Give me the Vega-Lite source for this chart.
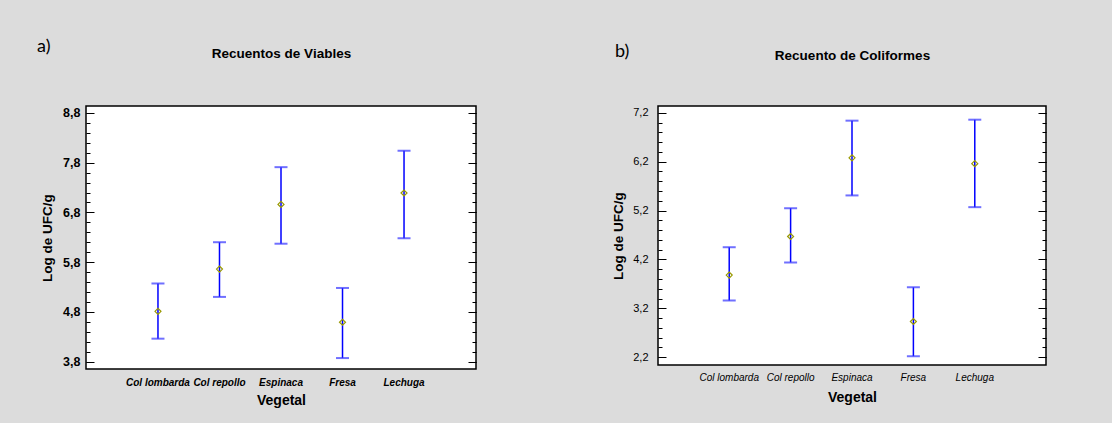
{
  "$schema": "https://vega.github.io/schema/vega-lite/v6.json",
  "background": "#dcdcdc",
  "padding": {"left": 36, "top": 37, "right": 64, "bottom": 18},
  "spacing": 182,
  "bounds": "flush",
  "datasets": {
    "a": [
      {"veg": "Col lombarda", "mean": 4.81, "lo": 4.26, "hi": 5.37},
      {"veg": "Col repollo", "mean": 5.66, "lo": 5.10, "hi": 6.20},
      {"veg": "Espinaca", "mean": 6.96, "lo": 6.17, "hi": 7.71},
      {"veg": "Fresa", "mean": 4.59, "lo": 3.87, "hi": 5.28},
      {"veg": "Lechuga", "mean": 7.19, "lo": 6.28, "hi": 8.04}
    ],
    "b": [
      {"veg": "Col lombarda", "mean": 3.88, "lo": 3.36, "hi": 4.45},
      {"veg": "Col repollo", "mean": 4.67, "lo": 4.14, "hi": 5.25},
      {"veg": "Espinaca", "mean": 6.28, "lo": 5.51, "hi": 7.04},
      {"veg": "Fresa", "mean": 2.93, "lo": 2.22, "hi": 3.63},
      {"veg": "Lechuga", "mean": 6.16, "lo": 5.27, "hi": 7.06}
    ]
  },
  "hconcat": [
    {
      "width": 390,
      "height": 263,
      "data": {"name": "a"},
      "title": {"text": "a)", "anchor": "start", "frame": "group", "dx": -49, "offset": -10, "font": "Lato", "fontSize": 18, "fontWeight": "normal", "color": "#000"},
      "layer": [
        {
          "mark": {"type": "rule", "color": "#0000ff", "strokeWidth": 1.5},
          "encoding": {
            "x": {"field": "veg", "type": "nominal", "sort": null, "scale": {"type": "band", "paddingInner": 0, "paddingOuter": 0.67},
              "axis": {"orient": "bottom", "title": "Vegetal", "labelAngle": 0, "ticks": false, "domain": false, "labelFontStyle": "italic", "labelFontWeight": "bold", "labelFontSize": 10, "labelPadding": 8, "titleFontSize": 14, "titleFontWeight": "bold", "titlePadding": 6}},
            "y": {"field": "lo", "type": "quantitative", "scale": {"domain": [3.65, 8.94], "zero": false, "nice": false},
              "axis": {"orient": "left", "values": [3.8, 4.8, 5.8, 6.8, 7.8, 8.8], "labelExpr": "replace(format(datum.value,'.1f'),'.',',')", "tickSize": -8, "tickColor": "#000", "labelPadding": 14, "domain": false, "grid": false, "title": "Log de UFC/g", "titleFontSize": 13.5, "titleFontWeight": "bold", "titlePadding": 8, "labelFontSize": 12.5, "labelFontWeight": "bold"}},
            "y2": {"field": "hi"}
          }
        },
        {
          "mark": {"type": "tick", "color": "#3333ff", "thickness": 2, "size": 13},
          "encoding": {
            "x": {"field": "veg", "type": "nominal", "sort": null, "scale": {"type": "band", "paddingInner": 0, "paddingOuter": 0.67},
              "axis": {"orient": "top", "labels": false, "ticks": false, "domain": false, "title": "Recuentos de Viables", "titleFontSize": 13.5, "titleFontWeight": "bold", "titlePadding": 46}},
            "y": {"field": "lo", "type": "quantitative", "scale": {"domain": [3.65, 8.94], "zero": false, "nice": false},
              "axis": {"orient": "left", "values": [3.8, 4.0, 4.2, 4.4, 4.6, 4.8, 5.0, 5.2, 5.4, 5.6, 5.8, 6.0, 6.2, 6.4, 6.6, 6.8, 7.0, 7.2, 7.4, 7.6, 7.8, 8.0, 8.2, 8.4, 8.6, 8.8], "labels": false, "tickSize": -4, "tickColor": "#000", "domain": false, "grid": false, "title": null}}
          }
        },
        {
          "mark": {"type": "tick", "color": "#3333ff", "thickness": 2, "size": 13},
          "encoding": {
            "x": {"field": "veg", "type": "nominal", "sort": null, "scale": {"type": "band", "paddingInner": 0, "paddingOuter": 0.67}, "axis": null},
            "y": {"field": "hi", "type": "quantitative", "scale": {"domain": [3.65, 8.94], "zero": false, "nice": false},
              "axis": {"orient": "right", "values": [3.8, 4.8, 5.8, 6.8, 7.8, 8.8], "labels": false, "tickSize": -8, "tickColor": "#000", "domain": false, "grid": false, "title": null}}
          }
        },
        {
          "mark": {"type": "point", "shape": "diamond", "filled": false, "color": "#999900", "strokeWidth": 1.2, "size": 36, "opacity": 1},
          "encoding": {
            "x": {"field": "veg", "type": "nominal", "sort": null, "scale": {"type": "band", "paddingInner": 0, "paddingOuter": 0.67}, "axis": null},
            "y": {"field": "mean", "type": "quantitative", "scale": {"domain": [3.65, 8.94], "zero": false, "nice": false},
              "axis": {"orient": "right", "values": [3.8, 4.0, 4.2, 4.4, 4.6, 4.8, 5.0, 5.2, 5.4, 5.6, 5.8, 6.0, 6.2, 6.4, 6.6, 6.8, 7.0, 7.2, 7.4, 7.6, 7.8, 8.0, 8.2, 8.4, 8.6, 8.8], "labels": false, "tickSize": -4, "tickColor": "#000", "domain": false, "grid": false, "title": null}}
          }
        }
      ],
      "resolve": {"axis": {"x": "independent", "y": "independent"}}
    },
    {
      "width": 388,
      "height": 259,
      "data": {"name": "b"},
      "title": {"text": "b)", "anchor": "start", "frame": "group", "dx": -43, "offset": -13, "font": "Lato", "fontSize": 18, "fontWeight": "normal", "color": "#000"},
      "layer": [
        {
          "mark": {"type": "rule", "color": "#0000ff", "strokeWidth": 1.5},
          "encoding": {
            "x": {"field": "veg", "type": "nominal", "sort": null, "scale": {"type": "band", "paddingInner": 0, "paddingOuter": 0.66},
              "axis": {"orient": "bottom", "title": "Vegetal", "labelAngle": 0, "ticks": false, "domain": false, "labelFontStyle": "italic", "labelFontWeight": "normal", "labelFontSize": 10, "labelPadding": 7, "titleFontSize": 14, "titleFontWeight": "bold", "titlePadding": 8}},
            "y": {"field": "lo", "type": "quantitative", "scale": {"domain": [2.04, 7.34], "zero": false, "nice": false},
              "axis": {"orient": "left", "values": [2.2, 3.2, 4.2, 5.2, 6.2, 7.2], "labelExpr": "replace(format(datum.value,'.1f'),'.',',')", "tickSize": -8, "tickColor": "#000", "labelPadding": 18, "domain": false, "grid": false, "title": "Log de UFC/g", "titleFontSize": 13.5, "titleFontWeight": "bold", "titlePadding": 7, "labelFontSize": 11, "labelFontWeight": "normal"}},
            "y2": {"field": "hi"}
          }
        },
        {
          "mark": {"type": "tick", "color": "#3333ff", "thickness": 2, "size": 13},
          "encoding": {
            "x": {"field": "veg", "type": "nominal", "sort": null, "scale": {"type": "band", "paddingInner": 0, "paddingOuter": 0.66},
              "axis": {"orient": "top", "labels": false, "ticks": false, "domain": false, "title": "Recuento de Coliformes", "titleFontSize": 13.5, "titleFontWeight": "bold", "titlePadding": 44}},
            "y": {"field": "lo", "type": "quantitative", "scale": {"domain": [2.04, 7.34], "zero": false, "nice": false},
              "axis": {"orient": "left", "values": [2.2, 2.4, 2.6, 2.8, 3.0, 3.2, 3.4, 3.6, 3.8, 4.0, 4.2, 4.4, 4.6, 4.8, 5.0, 5.2, 5.4, 5.6, 5.8, 6.0, 6.2, 6.4, 6.6, 6.8, 7.0, 7.2], "labels": false, "tickSize": -4, "tickColor": "#000", "domain": false, "grid": false, "title": null}}
          }
        },
        {
          "mark": {"type": "tick", "color": "#3333ff", "thickness": 2, "size": 13},
          "encoding": {
            "x": {"field": "veg", "type": "nominal", "sort": null, "scale": {"type": "band", "paddingInner": 0, "paddingOuter": 0.66}, "axis": null},
            "y": {"field": "hi", "type": "quantitative", "scale": {"domain": [2.04, 7.34], "zero": false, "nice": false},
              "axis": {"orient": "right", "values": [2.2, 3.2, 4.2, 5.2, 6.2, 7.2], "labels": false, "tickSize": -8, "tickColor": "#000", "domain": false, "grid": false, "title": null}}
          }
        },
        {
          "mark": {"type": "point", "shape": "diamond", "filled": false, "color": "#999900", "strokeWidth": 1.2, "size": 36, "opacity": 1},
          "encoding": {
            "x": {"field": "veg", "type": "nominal", "sort": null, "scale": {"type": "band", "paddingInner": 0, "paddingOuter": 0.66}, "axis": null},
            "y": {"field": "mean", "type": "quantitative", "scale": {"domain": [2.04, 7.34], "zero": false, "nice": false},
              "axis": {"orient": "right", "values": [2.2, 2.4, 2.6, 2.8, 3.0, 3.2, 3.4, 3.6, 3.8, 4.0, 4.2, 4.4, 4.6, 4.8, 5.0, 5.2, 5.4, 5.6, 5.8, 6.0, 6.2, 6.4, 6.6, 6.8, 7.0, 7.2], "labels": false, "tickSize": -4, "tickColor": "#000", "domain": false, "grid": false, "title": null}}
          }
        }
      ],
      "resolve": {"axis": {"x": "independent", "y": "independent"}}
    }
  ],
  "config": {
    "font": "Liberation Sans",
    "view": {"fill": "white", "stroke": "black", "strokeWidth": 1.5},
    "axis": {"labelColor": "#000", "titleColor": "#000", "tickWidth": 1}
  }
}
